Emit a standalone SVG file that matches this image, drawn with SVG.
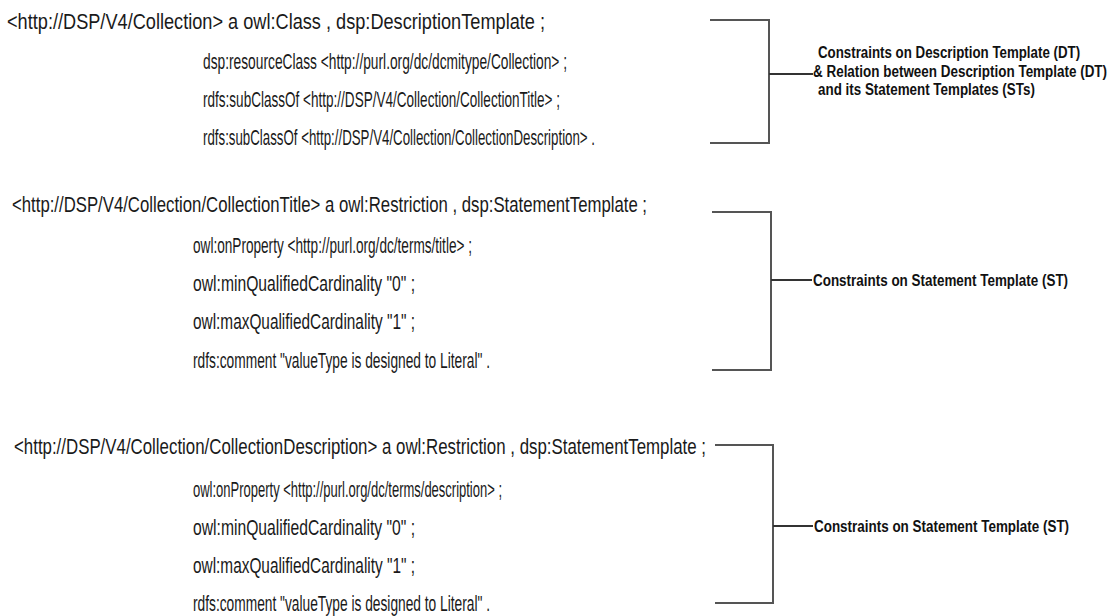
<svg xmlns="http://www.w3.org/2000/svg" width="1115" height="616" viewBox="0 0 1115 616">
<style>
.t{font-family:"Liberation Sans Narrow","Liberation Sans",Arial,sans-serif;font-size:22px;fill:#1a1a1a}
.b{font-family:"Liberation Sans Narrow","Liberation Sans",Arial,sans-serif;font-size:17px;font-weight:bold;fill:#111}
.br{fill:none;stroke:#555;stroke-width:2}
.tk{fill:none;stroke:#333;stroke-width:2}
</style>
<rect width="1115" height="616" fill="#fff"/>
<g id="dt">
<text class="t" x="7" y="29" textLength="538" lengthAdjust="spacingAndGlyphs">&lt;http://DSP/V4/Collection&gt; a owl:Class , dsp:DescriptionTemplate ;</text>
<text class="t" x="203" y="69" textLength="364" lengthAdjust="spacingAndGlyphs">dsp:resourceClass &lt;http://purl.org/dc/dcmitype/Collection&gt; ;</text>
<text class="t" x="203" y="107" textLength="357" lengthAdjust="spacingAndGlyphs">rdfs:subClassOf &lt;http://DSP/V4/Collection/CollectionTitle&gt; ;</text>
<text class="t" x="203" y="145" textLength="392" lengthAdjust="spacingAndGlyphs">rdfs:subClassOf &lt;http://DSP/V4/Collection/CollectionDescription&gt; .</text>
</g>
<g id="st1">
<text class="t" x="12" y="212" textLength="635" lengthAdjust="spacingAndGlyphs">&lt;http://DSP/V4/Collection/CollectionTitle&gt; a owl:Restriction , dsp:StatementTemplate ;</text>
<text class="t" x="193" y="253" textLength="279" lengthAdjust="spacingAndGlyphs">owl:onProperty &lt;http://purl.org/dc/terms/title&gt; ;</text>
<text class="t" x="193" y="291" textLength="222" lengthAdjust="spacingAndGlyphs">owl:minQualifiedCardinality "0" ;</text>
<text class="t" x="193" y="329" textLength="222" lengthAdjust="spacingAndGlyphs">owl:maxQualifiedCardinality "1" ;</text>
<text class="t" x="193" y="368" textLength="297" lengthAdjust="spacingAndGlyphs">rdfs:comment "valueType is designed to Literal" .</text>
</g>
<g id="st2">
<text class="t" x="14" y="454" textLength="692" lengthAdjust="spacingAndGlyphs">&lt;http://DSP/V4/Collection/CollectionDescription&gt; a owl:Restriction , dsp:StatementTemplate ;</text>
<text class="t" x="193" y="497" textLength="309" lengthAdjust="spacingAndGlyphs">owl:onProperty &lt;http://purl.org/dc/terms/description&gt; ;</text>
<text class="t" x="193" y="535" textLength="222" lengthAdjust="spacingAndGlyphs">owl:minQualifiedCardinality "0" ;</text>
<text class="t" x="193" y="573" textLength="222" lengthAdjust="spacingAndGlyphs">owl:maxQualifiedCardinality "1" ;</text>
<text class="t" x="193" y="611" textLength="297" lengthAdjust="spacingAndGlyphs">rdfs:comment "valueType is designed to Literal" .</text>
</g>
<g id="connectors">
<path class="br" d="M710 20H769V143H710"/>
<path class="tk" d="M769 74H813"/>
<path class="br" d="M712 212H771V370H712"/>
<path class="tk" d="M771 280H812"/>
<path class="br" d="M715 445H773V603H715"/>
<path class="tk" d="M773 526H813"/>
</g>
<g id="label-dt">
<text class="b" transform="translate(818 58) scale(0.78 1)" x="0" y="0" textLength="336" lengthAdjust="spacingAndGlyphs">Constraints on Description Template (DT)</text>
<text class="b" transform="translate(813 77) scale(0.78 1)" x="0" y="0" textLength="377" lengthAdjust="spacingAndGlyphs">&amp; Relation between Description Template (DT)</text>
<text class="b" transform="translate(818 95) scale(0.78 1)" x="0" y="0" textLength="278" lengthAdjust="spacingAndGlyphs">and its Statement Templates (STs)</text>
</g>
<g id="label-st1">
<text class="b" transform="translate(813 286) scale(0.78 1)" x="0" y="0" textLength="327" lengthAdjust="spacingAndGlyphs">Constraints on Statement Template (ST)</text>
</g>
<g id="label-st2">
<text class="b" transform="translate(814 532) scale(0.78 1)" x="0" y="0" textLength="327" lengthAdjust="spacingAndGlyphs">Constraints on Statement Template (ST)</text>
</g>
</svg>
